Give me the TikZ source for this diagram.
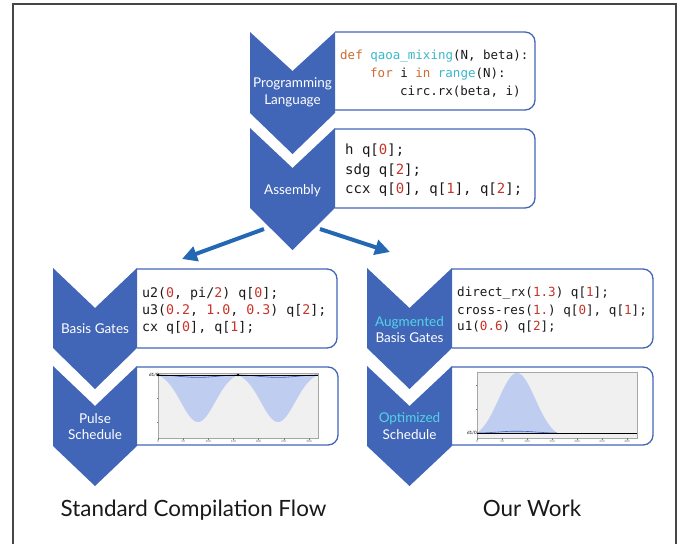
\documentclass[tikz,border=0pt]{standalone}
\usepackage{fontspec}
\setmainfont{Lato}
\setmonofont{DejaVu Sans Mono}
\usetikzlibrary{arrows.meta}
\definecolor{chev}{RGB}{65,101,183}
\definecolor{arrowblue}{RGB}{36,104,180}
\definecolor{cyanlbl}{RGB}{82,212,232}
\definecolor{numred}{RGB}{196,52,40}
\definecolor{kworange}{RGB}{204,108,48}
\definecolor{fncyan}{RGB}{58,184,200}
\definecolor{codeblack}{RGB}{25,25,25}
\definecolor{plotbg}{RGB}{240,240,240}
\definecolor{pulsefill}{RGB}{190,205,240}
\definecolor{pulseline}{RGB}{70,100,180}
\definecolor{framegray}{RGB}{70,70,70}
\newcommand{\cnum}[1]{\textcolor{numred}{#1}}
\newcommand{\ckw}[1]{\textcolor{kworange}{#1}}
\newcommand{\cfn}[1]{\textcolor{fncyan}{#1}}
\tikzset{
  chevron/.style={fill=chev, draw=none},
  codebox/.style={draw=chev, line width=1.3pt, rounded corners=10pt},
  steplabel/.style={text=white, anchor=base, inner sep=0pt, font=\fontsize{13.5}{16}\selectfont},
  codeline/.style={anchor=base west, inner sep=0pt, text=codeblack},
  flowarrow/.style={draw=arrowblue, line width=4pt, -{Triangle[length=15pt,width=15pt]}},
  axesbox/.style={fill=plotbg, draw=gray!70, line width=0.4pt},
  ticklbl/.style={font=\fontsize{3}{3}\selectfont, text=gray!80!black, inner sep=0pt, anchor=north},
  chanlbl/.style={font=\fontsize{4.5}{4.5}\selectfont, inner sep=0pt, anchor=east},
  titlelbl/.style={anchor=base, inner sep=0pt, font=\fontsize{22.4}{26}\selectfont, text=black!90},
}
\begin{document}
\begin{tikzpicture}[x=1pt,y=-1pt]
\useasboundingbox (0,0) rectangle (689,544);
% frame
\draw[framegray, line width=1.2pt] (13,544) -- (13,4) -- (676,4) -- (676,544);

% code boxes
\draw[codebox] (335,32) -- (535,32) -- (535,110) -- (335,110);
\draw[codebox] (335,129) -- (535,129) -- (535,208) -- (335,208);
\draw[codebox] (137,269) -- (337,269) -- (337,348) -- (137,348);
\draw[codebox] (137,367) -- (338,367) -- (338,445) -- (137,445);
\draw[codebox] (452,269) -- (653,269) -- (653,348) -- (452,348);
\draw[codebox] (452,367) -- (653,367) -- (653,445) -- (452,445);

% chevrons
\fill[chevron] (250,32) -- (292.5,71) -- (335,32) -- (335,113) -- (292.5,154) -- (250,113) -- cycle;
\fill[chevron] (250,128) -- (292.5,168) -- (335,128) -- (335,208) -- (292.5,250) -- (250,208) -- cycle;
\fill[chevron] (53,268) -- (95,308) -- (137,268) -- (137,348) -- (95,389) -- (53,348) -- cycle;
\fill[chevron] (53,366) -- (95,406) -- (137,366) -- (137,446) -- (95,486) -- (53,446) -- cycle;
\fill[chevron] (367,268) -- (409.5,308) -- (452,268) -- (452,348) -- (409.5,389) -- (367,348) -- cycle;
\fill[chevron] (367,366) -- (409.5,406) -- (452,366) -- (452,446) -- (409.5,486) -- (367,446) -- cycle;

% chevron labels
\node[steplabel] (l1a) at (292.5,87) {Programming};
\node[steplabel] (l1b) at (292.5,104) {Language};
\node[steplabel] (l2a) at (292.5,194) {Assembly};
\node[steplabel] (l3a) at (95,333) {Basis Gates};
\node[steplabel] (l4a) at (95,423) {Pulse};
\node[steplabel] (l4b) at (95,439) {Schedule};
\node[steplabel, text=cyanlbl] (l5a) at (409.5,326) {Augmented};
\node[steplabel] (l5b) at (409.5,342) {Basis Gates};
\node[steplabel, text=cyanlbl] (l6a) at (409.5,422) {Optimized};
\node[steplabel] (l6b) at (409.5,439) {Schedule};

% code: box 1
\begin{scope}[every node/.append style={font=\ttfamily\fontsize{12.5}{18}\selectfont}]
\node[codeline] (c1a) at (340,59.5) {\ckw{def} \cfn{qaoa\_mixing}(N, beta):};
\node[codeline] (c1b) at (370,77.8) {\ckw{for} i \ckw{in} \cfn{range}(N):};
\node[codeline] (c1c) at (400,95.5) {circ.rx(beta, i)};
\end{scope}
% code: box 2
\begin{scope}[every node/.append style={font=\ttfamily\fontsize{14}{19}\selectfont}]
\node[codeline] (c2a) at (345,154.5) {h q[\cnum{0}];};
\node[codeline] (c2b) at (345,174) {sdg q[\cnum{2}];};
\node[codeline] (c2c) at (345,193.5) {ccx q[\cnum{0}], q[\cnum{1}], q[\cnum{2}];};
\end{scope}
% code: box 3
\begin{scope}[every node/.append style={font=\ttfamily\fontsize{13.3}{17}\selectfont}]
\node[codeline] (c3a) at (142,297.8) {u2(\cnum{0}, pi/\cnum{2}) q[\cnum{0}];};
\node[codeline] (c3b) at (142,314.5) {u3(\cnum{0.2}, \cnum{1.0}, \cnum{0.3}) q[\cnum{2}];};
\node[codeline] (c3c) at (142,331.2) {cx q[\cnum{0}], q[\cnum{1}];};
\end{scope}
% code: box 5
\begin{scope}[every node/.append style={font=\ttfamily\fontsize{12.6}{17}\selectfont}]
\node[codeline] (c5a) at (457,296.5) {direct\_rx(\cnum{1.3}) q[\cnum{1}];};
\node[codeline] (c5b) at (457,314) {cross-res(\cnum{1.}) q[\cnum{0}], q[\cnum{1}];};
\node[codeline] (c5c) at (457,330.5) {u1(\cnum{0.6}) q[\cnum{2}];};
\end{scope}

% arrows
\coordinate (asmL) at (264,229);
\coordinate (asmR) at (320,229);
\coordinate (bgL) at (182,259);
\coordinate (bgR) at (390,252);
\draw[flowarrow] (asmL) -- (bgL);
\draw[flowarrow] (asmR) -- (bgR);

% left pulse plot
\fill[axesbox] (158,373) rectangle (318,438);
\fill[pulsefill] plot[domain=0:80,samples=61] ({158+\x},{375+50.15*exp(-(\x-40)*(\x-40)/578)-3.15}) -- cycle;
\fill[pulsefill] plot[domain=0:80,samples=61] ({238+\x},{375+50.15*exp(-(\x-40)*(\x-40)/578)-3.15}) -- cycle;
\draw[pulseline, line width=0.6pt] plot[domain=0:160,samples=81] ({158+\x},{375+1.2*(1-cos(4.5*\x))});
\draw[black, line width=0.8pt] (158,375) -- (318,375);
\fill[black] (158,375) circle (1.4pt);
\fill[black] (238,375) circle (1.4pt);
\node[chanlbl] (chL) at (159,375) {d1/0};
\foreach \k in {0,50,100,150,200,250,300}{
  \draw[gray, line width=0.3pt] ({158+\k*0.503},438) -- ({158+\k*0.503},439.5);
  \node[ticklbl] (tL\k) at ({158+\k*0.503},440.5) {\k};
}
\draw[gray, line width=0.3pt] (158,398) -- (156.5,398);
\draw[gray, line width=0.3pt] (158,422) -- (156.5,422);

% right pulse plot
\fill[axesbox] (477,372) rectangle (637,438);
\fill[pulsefill] plot[domain=0:80,samples=61] ({477+\x},{433-66.06*exp(-(\x-40)*(\x-40)/669.8)+6.06}) -- cycle;
\draw[pulseline, line width=0.6pt] plot[domain=0:80,samples=41] ({477+\x},{433-0.9*(1-cos(4.5*\x))});
\draw[black, line width=0.8pt] (477,433) -- (637,433);
\node[chanlbl] (chR) at (477,433) {d1/0};
\foreach \k in {0,50,100,150,200,250,300}{
  \draw[gray, line width=0.3pt] ({477+\k*0.5},438) -- ({477+\k*0.5},439.5);
  \node[ticklbl] (tR\k) at ({477+\k*0.5},440.5) {\k};
}
\draw[gray, line width=0.3pt] (477,385) -- (475.5,385);
\draw[gray, line width=0.3pt] (477,409) -- (475.5,409);

% titles
\node[titlelbl] (t1) at (193.5,516) {Standard Compilation Flow};
\node[titlelbl] (t2) at (532,516) {Our Work};
\end{tikzpicture}
\end{document}
